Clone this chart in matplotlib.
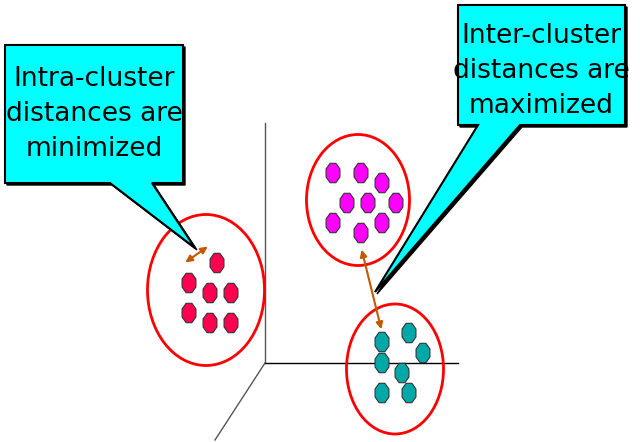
import numpy as np
import matplotlib.pyplot as plt
from matplotlib.patches import Ellipse, Polygon

# cluster points (pixel coords of the slide)
red_x = [217, 189, 210, 231, 189, 210, 231]
red_y = [263, 283, 293, 293, 313, 323, 323]
mag_x = [333, 361, 382, 347, 368, 396, 333, 382, 361]
mag_y = [173, 173, 183, 203, 203, 203, 223, 223, 233]
teal_x = [382, 409, 423, 382, 402, 382, 409]
teal_y = [342, 333, 353, 363, 373, 393, 393]

left_text = "Intra-cluster\ndistances are\nminimized"
right_text = "Inter-cluster\ndistances are\nmaximized"

fig = plt.figure(figsize=(6.4, 4.42), dpi=100)
ax = fig.add_axes([0, 0, 1, 1])
ax.set_xlim(0, 640)
ax.set_ylim(442, 0)
ax.axis("off")

# 3d axes
ax.plot([265, 265], [123, 363], color="#555555", lw=1)
ax.plot([265, 458], [363, 363], color="black", lw=1)
ax.plot([265, 215], [363, 440], color="#555555", lw=1)

def octagon(cx, cy, color):
    t = np.arange(8) * np.pi / 4 + np.pi / 8
    pts = np.c_[cx + 7.5 * np.cos(t), cy + 10.5 * np.sin(t)]
    ax.add_patch(Polygon(pts, closed=True, fc=color, ec="#333333", lw=0.8, zorder=3))

for xs, ys, c in [(red_x, red_y, "#ff0050"), (mag_x, mag_y, "#ff00ff"), (teal_x, teal_y, "#00a8a8")]:
    for x, y in zip(xs, ys):
        octagon(x, y, c)

for c, w, h in [((206, 290), 117, 151), ((358, 200), 103, 131), ((395, 369), 97, 130)]:
    ax.add_patch(Ellipse(c, w, h, fill=False, ec="red", lw=2, zorder=2))

arrow = dict(arrowstyle="<|-|>", color="#c05a00", lw=1.5, mutation_scale=10)
ax.annotate("", xy=(210, 245), xytext=(183, 264), arrowprops=arrow, zorder=4)
ax.annotate("", xy=(382, 332), xytext=(361, 247), arrowprops=arrow, zorder=4)

# callouts
left = [(5, 45), (183, 45), (183, 183), (152, 183), (195, 248), (110, 183), (5, 183)]
right = [(458, 5), (625, 5), (625, 125), (520, 125), (375, 292), (478, 125), (458, 125)]
for poly in (left, right):
    shadow = [(x + 2, y + 2) for x, y in poly]
    ax.add_patch(Polygon(shadow, closed=True, fc="black", ec="black", zorder=5))
    ax.add_patch(Polygon(poly, closed=True, fc="#00ffff", ec="black", lw=1.5, zorder=6))

font = ["Liberation Sans Narrow", "DejaVu Sans"]
ax.text(94, 114, left_text, ha="center", va="center", fontsize=19,
        linespacing=1.45, family=font, zorder=7)
ax.text(541, 71, right_text, ha="center", va="center", fontsize=19,
        linespacing=1.45, family=font, zorder=7)

plt.savefig("out.png")
